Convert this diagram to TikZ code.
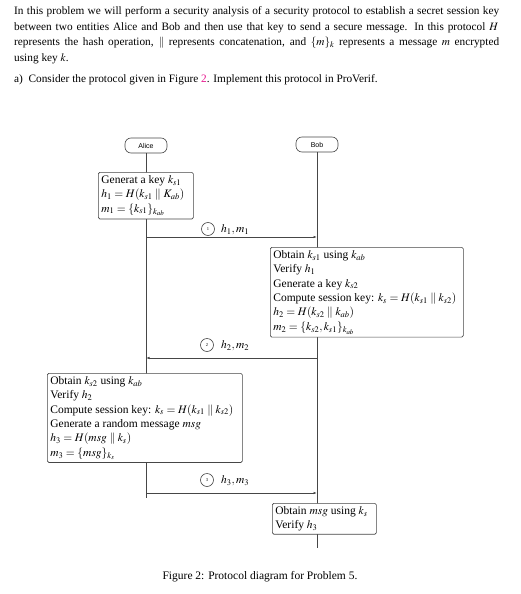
\documentclass[tikz,border=0pt]{standalone}
\usepackage{mathptmx}
\usepackage[no-math]{fontspec}
\setmainfont{Liberation Serif}
\newfontfamily\lifefont{Liberation Sans}
\usetikzlibrary{arrows.meta}
\definecolor{linkpink}{RGB}{230,20,140}
\definecolor{linegray}{RGB}{70,70,70}
\newcommand{\cc}{\mathrel{\|}}
\begin{document}
\begin{tikzpicture}[x=1pt,y=-1pt,
  actor/.style={draw=linegray,line width=0.6pt,rounded corners=6pt,minimum width=42pt,minimum height=15pt,inner sep=0pt,font=\lifefont\fontsize{7}{8}\selectfont},
  lifeline/.style={draw=linegray,line width=0.6pt},
  msg/.style={draw=linegray,line width=0.7pt,-{Latex[length=3.5pt,width=2.5pt]}},
  stepbox/.style={draw=linegray,fill=white,line width=0.7pt,rounded corners=1.5pt,align=flush left,inner xsep=3pt,inner ysep=3pt,font=\fontsize{11.5}{14.4}\selectfont},
  num/.style={draw=linegray,circle,line width=0.6pt,minimum size=13pt,inner sep=0pt,font=\fontsize{4.5}{5}\selectfont},
  msglabel/.style={anchor=west,inner sep=0pt,font=\fontsize{11.5}{13}\selectfont},
  para/.style={anchor=west,inner sep=0pt,font=\fontsize{11.3}{13}\selectfont}
]
\useasboundingbox (0,0) rectangle (520,594);
% paragraph text
\node[para] (p1) at (14,12) {\makebox[485pt][s]{In this problem we will perform a security analysis of a security protocol to establish a secret session key}};
\node[para] (p2) at (14,27.5) {\makebox[484pt][s]{between two entities Alice and Bob and then use that key to send a secure message. In this protocol $H$}};
\node[para] (p3) at (14,43) {\makebox[485pt][s]{represents the hash operation, $\|$ represents concatenation, and $\{m\}_k$ represents a message $m$ encrypted}};
\node[para] (p4) at (14,58.5) {using key $k$.};
\node[para] (p5) at (14,80) {a)\ \ Consider the protocol given in Figure \textcolor{linkpink}{2}. Implement this protocol in ProVerif.};

% actors
\node[actor] (alice) at (146,145.5) {Alice};
\node[actor] (bob) at (317,144.5) {Bob};
\coordinate (aend) at (146,498);
\coordinate (bend) at (317,548);
\draw[lifeline] (alice.south) -- (aend);
\draw[lifeline] (bob.south) -- (bend);

% boxes
\node[stepbox,anchor=north west,text width=89pt] (box1) at (98,172) {Generat a key $k_{s1}$\\ $h_1 = H(k_{s1} \cc K_{ab})$\\ $m_1 = \{k_{s1}\}_{k_{ab}}$};
\node[stepbox,anchor=north west,text width=187pt] (box2) at (270,247) {Obtain $k_{s1}$ using $k_{ab}$\\ Verify $h_1$\\ Generate a key $k_{s2}$\\ Compute session key: $k_s = H(k_{s1} \cc k_{s2})$\\ $h_2 = H(k_{s2} \cc k_{ab})$\\ $m_2 = \{k_{s2}, k_{s1}\}_{k_{ab}}$};
\node[stepbox,anchor=north west,text width=189pt] (box3) at (47,373) {Obtain $k_{s2}$ using $k_{ab}$\\ Verify $h_2$\\ Compute session key: $k_s = H(k_{s1} \cc k_{s2})$\\ Generate a random message $msg$\\ $h_3 = H(msg \cc k_s)$\\ $m_3 = \{msg\}_{k_s}$};
\node[stepbox,anchor=north west,text width=98pt] (box4) at (272,503) {Obtain $msg$ using $k_s$\\ Verify $h_3$};

% messages
\coordinate (a1) at (146,237);
\coordinate (b1) at (317,237);
\draw[msg] (a1) -- (b1);
\node[num] (n1) at (208,229) {1};
\node[msglabel] (l1) at (221,229.5) {$h_1, m_1$};

\coordinate (b2) at (317,358);
\coordinate (a2) at (146,358);
\draw[msg] (b2) -- (a2);
\node[num] (n2) at (207,345) {2};
\node[msglabel] (l2) at (221,345.5) {$h_2, m_2$};

\coordinate (a3) at (146,493);
\coordinate (b3) at (317,493);
\draw[msg] (a3) -- (b3);
\node[num] (n3) at (207,480) {3};
\node[msglabel] (l3) at (221,480.5) {$h_3, m_3$};

% caption
\node[inner sep=0pt,font=\fontsize{11.5}{13}\selectfont] (cap) at (260,577) {Figure 2: Protocol diagram for Problem 5.};
\end{tikzpicture}
\end{document}
